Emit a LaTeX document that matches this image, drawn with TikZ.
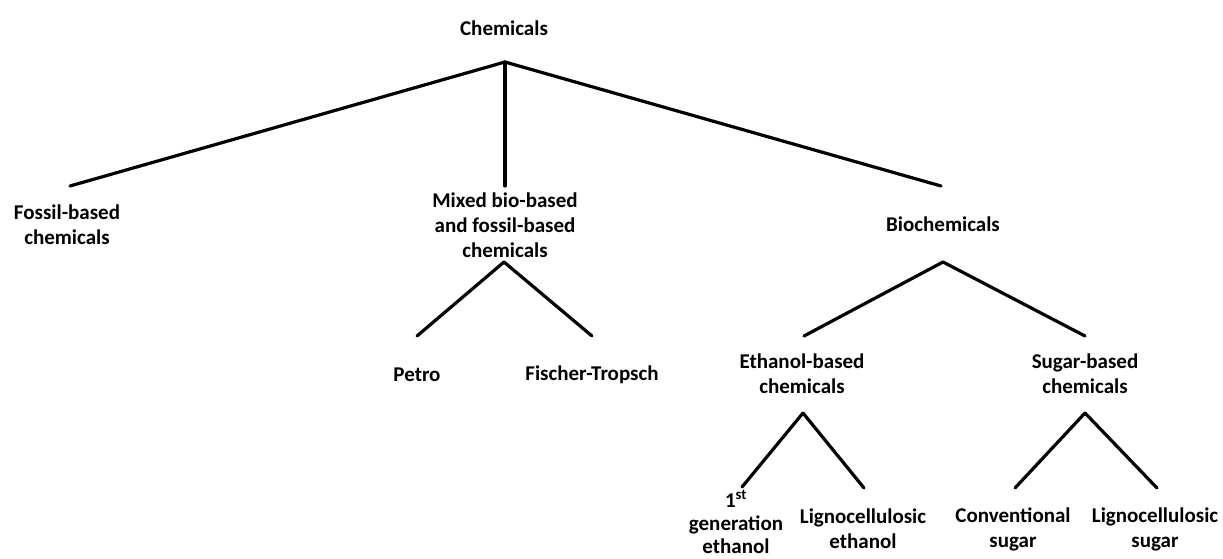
\documentclass[tikz,border=0pt]{standalone}
\usepackage{fontspec}
\setmainfont{Carlito}
\usepackage{tikz}

\begin{document}
\begin{tikzpicture}[x=1pt,y=-1pt,every node/.style={font=\fontsize{21}{25}\selectfont\bfseries, align=center, inner sep=0pt}]
\useasboundingbox (0,0) rectangle (1223,558);
\tikzset{branch/.style={line width=3.2pt, line cap=round}}

\node (R) at (504,28) {Chemicals};
\node (A1) at (67,225) {Fossil-based\\chemicals};
\node (A2) at (505,225) {Mixed bio-based\\and fossil-based\\chemicals};
\node (A3) at (943,224) {Biochemicals};
\node (B1) at (417,375) {Petro};
\node (B2) at (592,375) {Fischer-Tropsch};
\node (B3) at (802,374) {Ethanol-based\\chemicals};
\node (B4) at (1085,374) {Sugar-based\\chemicals};
\node [font=\fontsize{21}{23}\selectfont\bfseries] (C1) at (736,522) {1\textsuperscript{st}\\generation\\ethanol};
\node (C2) at (863,529) {Lignocellulosic\\ethanol};
\node (C3) at (1013,529) {Conventional\\sugar};
\node (C4) at (1155,529) {Lignocellulosic\\sugar};

\coordinate (r) at (505,62);
\coordinate (a1) at (70,186);
\coordinate (a2) at (505,186);
\coordinate (a3) at (941,186);
\coordinate (a2s) at (504,262);
\coordinate (a3s) at (943,262);
\coordinate (b1) at (417,336);
\coordinate (b2) at (592,336);
\coordinate (b3) at (804,336);
\coordinate (b4) at (1085,336);
\coordinate (b3s) at (803,413);
\coordinate (b4s) at (1085,413);
\coordinate (c1) at (742,487);
\coordinate (c2) at (864,488);
\coordinate (c3) at (1015,488);
\coordinate (c4) at (1157,488);

\path [branch] (r) edge (a1);
\path [branch] (r) edge (a2);
\path [branch] (r) edge (a3);
\path [branch] (a2s) edge (b1);
\path [branch] (a2s) edge (b2);
\path [branch] (a3s) edge (b3);
\path [branch] (a3s) edge (b4);
\path [branch] (b3s) edge (c1);
\path [branch] (b3s) edge (c2);
\path [branch] (b4s) edge (c3);
\path [branch] (b4s) edge (c4);
\end{tikzpicture}
\end{document}
